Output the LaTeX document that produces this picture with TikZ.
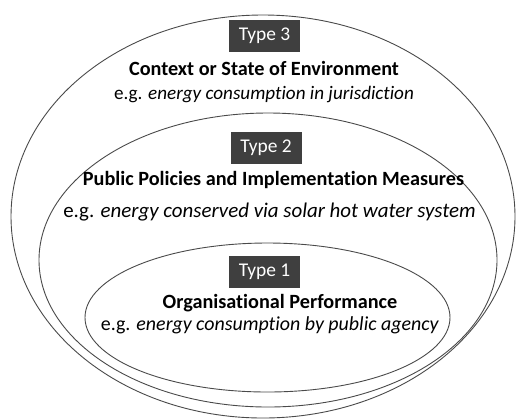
\documentclass[tikz,border=0pt]{standalone}
\usepackage{fontspec}
\setmainfont{Carlito}[RawFeature=-liga]
\usepackage{tikz}

\definecolor{boxgray}{HTML}{3F3F3F}
\definecolor{ringgray}{HTML}{4A4A4A}

\tikzset{
	ring/.style={draw=ringgray, line width=0.9bp},
	typebox/.style={fill=boxgray, text=white, minimum width=71bp, minimum height=32bp, inner sep=0pt, font=\fontsize{19.5}{22}\selectfont},
	titletext/.style={anchor=base, inner sep=0pt, font=\fontsize{20.3}{22}\selectfont\bfseries},
	egtext/.style={anchor=base, inner sep=0pt, font=\fontsize{#1}{22}\selectfont},
	egtext/.default=19.5
}

\begin{document}
\begin{tikzpicture}[x=1bp, y=-1bp]
				\useasboundingbox (0,0) rectangle (516,419);
				% rings, outer to inner
				\draw [ring] (263,216.5) ellipse [x radius=252, y radius=201.5];
				\draw [ring] (268,260) ellipse [x radius=229, y radius=147];
				\draw [ring] (267.5,317.5) ellipse [x radius=182.5, y radius=74.5];
				% type 3
				\node [typebox] (type3) at (264.5,36) {Type 3};
				\node [titletext] (title3) at (264,75) {Context or State of Environment};
				\node [egtext=19.2] (eg3) at (264,99) {e.g. \textit{energy consumption in jurisdiction}};
				% type 2
				\node [typebox] (type2) at (266,148) {Type 2};
				\node [titletext] (title2) at (273.5,185) {Public Policies and Implementation Measures};
				\node [egtext=21] (eg2) at (269.5,217) {e.g. \textit{energy conserved via solar hot water system}};
				% type 1
				\node [typebox] (type1) at (264.5,272) {Type 1};
				\node [titletext] (title1) at (280,308) {Organisational Performance};
				\node [egtext=20] (eg1) at (270,330) {e.g. \textit{energy consumption by public agency}};
\end{tikzpicture}
\end{document}
